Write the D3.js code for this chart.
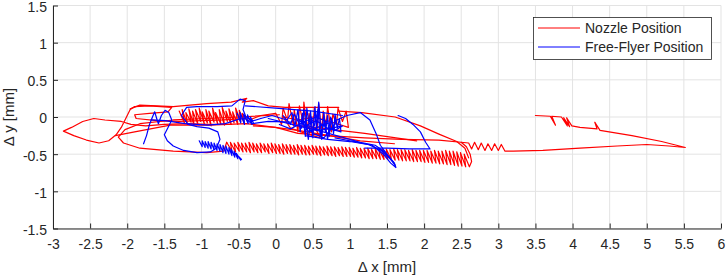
<!DOCTYPE html>
<html lang="en">
<head>
	<meta charset="utf-8">
	<title>Nozzle and Free-Flyer Position</title>
	<script src="https://d3js.org/d3.v7.min.js"></script>
	<style>
		body { margin: 0; background: #fff; }
		text { font-family: "Liberation Sans", Arial, Helvetica, sans-serif; fill: #262626; }
		.axis path, .axis .tick line { stroke: #262626; }
		.grid line { stroke: #e3e3e3; stroke-width: 1; }
		.trace { fill: none; stroke-width: 1.2; stroke-linejoin: round; stroke-linecap: round; }
	</style>
</head>
<body>
	<div id="chart"></div>
	<script>
		// tick labels
		var xTicks = [-3, -2.5, -2, -1.5, -1, -0.5, 0, 0.5, 1, 1.5, 2, 2.5, 3, 3.5, 4, 4.5, 5, 5.5, 6];
		var yTicks = [-1.5, -1, -0.5, 0, 0.5, 1, 1.5];
		var seriesNames = ["Nozzle Position", "Free-Flyer Position"];
		var seriesColors = ["#ff0000", "#0000ff"];

		// Nozzle position pieces, [dx, dy] in mm
		var nozzleLobe = [[-0.6,-0.1],[-0.9,-0.1],[-1.2,-0.09],[-1.5,-0.1],[-1.75,-0.12],[-1.95,-0.1],[-2.08,-0.06],[-2.3,-0.04],[-2.45,-0.02],[-2.6,-0.06],[-2.75,-0.14],[-2.86,-0.19],[-2.72,-0.25],[-2.55,-0.31],[-2.38,-0.35],[-2.25,-0.32],[-2.15,-0.24],[-2.08,-0.14],[-2.02,-0.02],[-1.96,0.1],[-1.9,0.14],[-1.7,0.15],[-1.4,0.13],[-1.45,0.07],[-1.7,0.05],[-1.9,0.03],[-1.88,-0.02],[-1.6,-0.05],[-1.3,-0.06],[-1.0,-0.05],[-0.7,-0.04],[-0.4,-0.02]];
		var nozzleSide = [[-2.16,-0.25],[-1.9,-0.2],[-1.42,-0.11],[-0.9,-0.11],[-0.39,-0.09],[0.3,-0.18],[1.14,-0.32],[1.6,-0.36]];
		var nozzleTop = [[-1.96,0.11],[-1.83,0.16],[-1.38,0.14],[-0.93,0.18],[-0.6,0.2],[-0.39,0.25],[-0.45,0.2],[-0.3,0.22],[-0.1,0.15],[0.13,0.13],[0.85,0.13]];
		var nozzleEllipse = [[0.05,0.03],[-0.48,0.0],[-0.93,-0.02],[-1.38,-0.04],[-1.83,-0.09],[-2.03,-0.17],[-2.12,-0.27],[-2.05,-0.35],[-1.83,-0.42],[-1.38,-0.46],[-0.93,-0.48],[-0.7,-0.46],[-0.66,-0.34]];
		var nozzleBandA = [[-0.66,-0.34],[-0.59,-0.46],[-0.61,-0.34],[-0.54,-0.47],[-0.56,-0.35],[-0.49,-0.46],[-0.51,-0.34],[-0.44,-0.47],[-0.46,-0.35],[-0.39,-0.47],[-0.41,-0.35],[-0.34,-0.48],[-0.36,-0.34],[-0.29,-0.47],[-0.31,-0.35],[-0.24,-0.48],[-0.26,-0.36],[-0.19,-0.48],[-0.21,-0.35],[-0.14,-0.47],[-0.16,-0.36],[-0.09,-0.49],[-0.11,-0.36],[-0.04,-0.48],[-0.06,-0.35],[0.01,-0.49],[-0.01,-0.36],[0.06,-0.49],[0.04,-0.37],[0.11,-0.5],[0.09,-0.36],[0.16,-0.49],[0.14,-0.37],[0.21,-0.5],[0.19,-0.37],[0.26,-0.5],[0.24,-0.38],[0.31,-0.51],[0.29,-0.37],[0.36,-0.5],[0.34,-0.38],[0.41,-0.51],[0.39,-0.38],[0.46,-0.51],[0.44,-0.39],[0.51,-0.5],[0.49,-0.38],[0.56,-0.51],[0.54,-0.39],[0.61,-0.52],[0.59,-0.39],[0.66,-0.51],[0.64,-0.4],[0.71,-0.52],[0.69,-0.39],[0.76,-0.52],[0.74,-0.4],[0.81,-0.53],[0.79,-0.4],[0.86,-0.52],[0.84,-0.41],[0.91,-0.53],[0.89,-0.4],[0.96,-0.53],[0.94,-0.41]];
		var nozzleBandB = [[0.94,-0.41],[1.01,-0.53],[0.99,-0.41],[1.06,-0.54],[1.04,-0.42],[1.11,-0.54],[1.09,-0.41],[1.16,-0.55],[1.14,-0.42],[1.21,-0.55],[1.19,-0.42],[1.26,-0.56],[1.24,-0.42],[1.31,-0.56],[1.29,-0.43],[1.36,-0.56],[1.34,-0.42],[1.41,-0.57],[1.39,-0.43],[1.46,-0.57],[1.44,-0.43],[1.51,-0.57],[1.49,-0.43],[1.56,-0.58],[1.54,-0.44],[1.61,-0.58],[1.59,-0.43],[1.66,-0.58],[1.64,-0.44],[1.71,-0.59],[1.69,-0.44],[1.76,-0.59],[1.74,-0.44],[1.81,-0.59],[1.79,-0.45],[1.86,-0.6],[1.84,-0.44],[1.91,-0.6],[1.89,-0.45],[1.96,-0.6],[1.94,-0.45],[2.01,-0.61],[1.99,-0.45],[2.06,-0.61],[2.04,-0.45],[2.11,-0.62],[2.09,-0.46],[2.16,-0.62],[2.14,-0.45],[2.21,-0.63],[2.19,-0.46],[2.26,-0.63],[2.24,-0.46],[2.31,-0.64],[2.29,-0.45],[2.36,-0.64],[2.34,-0.46],[2.41,-0.65],[2.39,-0.46],[2.46,-0.66],[2.44,-0.47],[2.51,-0.66],[2.49,-0.48],[2.56,-0.67],[2.54,-0.5],[2.61,-0.67],[2.64,-0.6],[2.62,-0.5],[2.57,-0.4],[2.5,-0.34]];
		var nozzleDiag = [[0.85,0.08],[1.16,0.06],[1.61,0.0],[1.95,-0.12],[2.2,-0.23],[2.44,-0.33],[2.55,-0.42],[2.6,-0.55]];
		var nozzleRight = [[3.5,0.02],[3.7,0.01],[3.77,-0.11],[3.72,0.01],[3.85,0.0],[3.93,-0.12],[3.88,-0.01],[3.96,-0.13],[3.92,-0.01],[3.99,-0.12],[4.1,-0.14],[4.33,-0.16],[4.3,-0.07],[4.37,-0.18],[4.8,-0.25],[5.2,-0.33],[5.52,-0.41],[5.3,-0.39],[5.0,-0.37],[4.6,-0.39],[4.1,-0.42],[3.6,-0.45],[3.2,-0.46],[3.09,-0.46],[3.04,-0.37],[3.0,-0.45],[2.95,-0.36],[2.91,-0.45],[2.86,-0.36],[2.82,-0.45],[2.77,-0.35],[2.73,-0.44],[2.68,-0.34],[2.64,-0.43],[2.6,-0.35],[2.2,-0.31],[1.7,-0.3],[1.2,-0.28],[0.7,-0.25],[0.3,-0.22],[0.0,-0.14],[-0.3,-0.12]];
		var nozzleClusterWest = [[-1.3,0.08],[-1.23,-0.08],[-1.26,0.1],[-1.19,-0.1],[-1.21,0.06],[-1.14,-0.07],[-1.17,0.11],[-1.1,-0.11],[-1.12,0.08],[-1.05,-0.09],[-1.08,0.1],[-1.01,-0.06],[-1.03,0.12],[-0.96,-0.1],[-0.99,0.07],[-0.92,-0.08],[-0.94,0.1],[-0.87,-0.12],[-0.9,0.08],[-0.83,-0.07],[-0.85,0.12],[-0.78,-0.1],[-0.81,0.06],[-0.74,-0.09],[-0.76,0.1],[-0.69,-0.11],[-0.72,0.13],[-0.65,-0.06],[-0.67,0.08],[-0.6,-0.1],[-0.63,0.11],[-0.56,-0.08],[-0.58,0.07],[-0.51,-0.1],[-0.54,0.12],[-0.47,-0.06],[-0.49,0.09],[-0.42,-0.09],[-0.45,0.05],[-0.38,-0.05],[-0.2,0.02],[0.0,0.05]];
		var nozzleClusterEast = [[0.0,0.05],[0.08,-0.1],[0.1,0.12],[0.16,-0.05],[0.18,0.18],[0.24,-0.12],[0.25,0.1],[0.3,-0.2],[0.32,0.15],[0.37,-0.08],[0.38,0.2],[0.43,-0.18],[0.45,0.05],[0.5,-0.25],[0.52,0.12],[0.56,-0.15],[0.58,0.18],[0.62,-0.22],[0.64,0.08],[0.68,-0.12],[0.7,0.14],[0.75,-0.2],[0.77,0.04],[0.82,-0.1],[0.84,0.12],[0.9,-0.06],[0.95,0.08],[0.98,-0.14],[0.7,-0.05],[0.5,0.0],[0.3,-0.04],[0.1,0.0],[0.2,-0.15],[0.4,-0.22],[0.6,-0.28],[0.55,-0.18],[0.35,-0.12],[1.2,-0.22],[1.9,-0.32]];

		// Free-flyer position pieces
		var flyerLeft = [[-1.78,-0.36],[-1.74,-0.25],[-1.7,-0.1],[-1.66,0.0],[-1.63,0.07],[-1.6,-0.03],[-1.58,-0.09],[-1.54,0.02],[-1.49,0.09],[-1.44,0.06],[-1.4,-0.04],[-1.45,-0.14],[-1.5,-0.24],[-1.46,-0.32],[-1.38,-0.39],[-1.24,-0.45],[-1.06,-0.48],[-0.88,-0.47],[-0.8,-0.42],[-0.75,-0.3],[-0.78,-0.2],[-0.9,-0.15],[-1.06,-0.13],[-1.18,-0.1],[-1.27,0.02],[-1.2,0.13],[-1.06,0.14],[-0.79,0.14],[-0.59,0.15],[-0.48,0.24],[-0.41,0.22],[-0.44,0.1],[-0.4,0.0],[-0.3,-0.05],[-0.2,-0.02]];
		var flyerMid = [[-1.68,-0.04],[-1.49,-0.05],[-1.22,-0.09],[-0.91,-0.11],[-0.68,-0.09],[-0.5,-0.03],[-0.41,-0.02],[-0.32,-0.09],[-0.1,-0.06],[0.2,-0.07]];
		var flyerTopLine = [[-0.41,0.15],[0.0,0.12],[0.5,0.08],[0.9,0.02]];
		var flyerBlob = [[-0.52,0.05],[-0.47,-0.08],[-0.48,0.06],[-0.42,-0.1],[-0.43,0.04],[-0.37,-0.09],[-0.38,0.03],[-0.32,-0.1],[-0.34,0.0],[-0.3,-0.08]];
		var flyerHatch = [[-1.03,-0.32],[-0.99,-0.4],[-0.99,-0.32],[-0.95,-0.41],[-0.95,-0.33],[-0.91,-0.42],[-0.91,-0.33],[-0.87,-0.43],[-0.87,-0.34],[-0.83,-0.44],[-0.83,-0.35],[-0.79,-0.45],[-0.79,-0.36],[-0.75,-0.46],[-0.75,-0.37],[-0.71,-0.48],[-0.71,-0.38],[-0.67,-0.49],[-0.67,-0.39],[-0.63,-0.5],[-0.63,-0.41],[-0.59,-0.52],[-0.6,-0.43],[-0.55,-0.54],[-0.56,-0.46],[-0.51,-0.56],[-0.53,-0.49],[-0.47,-0.58],[-0.5,-0.53],[-0.46,-0.57]];
		var flyerCluster = [[-0.2,-0.02],[-0.05,0.02],[0.15,-0.04],[0.22,0.06],[0.26,-0.12],[0.3,0.1],[0.33,-0.2],[0.36,0.05],[0.4,-0.26],[0.42,0.12],[0.45,-0.1],[0.47,0.08],[0.5,-0.28],[0.53,0.14],[0.55,-0.18],[0.58,0.2],[0.6,-0.06],[0.62,-0.3],[0.65,0.06],[0.67,-0.2],[0.7,0.02],[0.72,-0.26],[0.75,-0.02],[0.78,-0.22],[0.8,0.04],[0.83,-0.15],[0.86,-0.02],[0.88,-0.2],[0.7,-0.15],[0.55,-0.05],[0.4,-0.12],[0.3,-0.02],[0.45,-0.2],[0.6,-0.12],[0.72,-0.08],[0.55,0.0],[0.38,-0.06],[0.5,-0.22],[0.65,-0.28],[0.8,-0.1],[0.8,-0.05],[0.96,0.02],[1.14,0.06],[1.27,-0.04],[1.36,-0.24],[1.41,-0.38],[1.5,-0.5],[1.6,-0.62],[1.62,-0.68],[1.55,-0.62],[1.45,-0.5],[1.3,-0.38],[1.0,-0.33],[0.7,-0.3],[0.4,-0.25]];
		var flyerScribble = [[0.1,0.02],[0.2,-0.1],[0.25,0.04],[0.35,-0.15],[0.38,0.1],[0.44,-0.3],[0.48,0.0],[0.52,-0.12],[0.57,0.1],[0.6,-0.25],[0.66,-0.05],[0.7,-0.3],[0.74,0.0],[0.8,-0.18],[0.9,-0.12],[0.6,-0.18],[0.35,-0.08],[0.2,-0.16],[0.05,-0.1]];
		var flyerBand = [[-0.1,-0.02],[0.3,-0.12],[0.64,-0.2],[1.14,-0.34],[1.34,-0.38],[1.47,-0.47],[1.61,-0.65],[1.58,-0.6],[1.42,-0.45],[1.25,-0.37],[0.8,-0.28]];
		var flyerBranch = [[1.2,-0.42],[1.5,-0.42],[1.8,-0.43],[2.08,-0.43],[2.02,-0.34],[1.95,-0.2],[1.85,-0.1],[1.75,-0.02],[1.65,0.02]];

		var nozzleTraces = [nozzleLobe, nozzleSide, nozzleTop, nozzleEllipse, nozzleBandA, nozzleBandB, nozzleDiag, nozzleRight, nozzleClusterWest, nozzleClusterEast];
		var flyerTraces = [flyerLeft, flyerMid, flyerTopLine, flyerBlob, flyerHatch, flyerCluster, flyerScribble, flyerBand, flyerBranch];

		const width = 726;
		const height = 275;

		var svg = d3.select("#chart")
					.append("svg")
					.attr("width", width)
					.attr("height", height);

		let x = d3.scaleLinear().domain([-3, 6]).range([53, 721]);
		let y = d3.scaleLinear().domain([-1.5, 1.5]).range([228.5, 5.5]);

		// grid
		let grid = svg.append("g").attr("class", "grid");
		grid.selectAll("line.gx")
			.data(xTicks)
			.enter()
			.append("line")
			.attr("class", "gx")
			.attr("x1", function(d) { return x(d); })
			.attr("x2", function(d) { return x(d); })
			.attr("y1", y(-1.5))
			.attr("y2", y(1.5));
		grid.selectAll("line.gy")
			.data(yTicks)
			.enter()
			.append("line")
			.attr("class", "gy")
			.attr("x1", x(-3))
			.attr("x2", x(6))
			.attr("y1", function(d) { return y(d); })
			.attr("y2", function(d) { return y(d); });

		// traces, nozzle first then free-flyer on top
		let line = d3.line()
					.x(function(d) { return x(d[0]); })
					.y(function(d) { return y(d[1]); });
		svg.append("g")
			.selectAll("path")
			.data(nozzleTraces)
			.enter()
			.append("path")
			.attr("class", "trace")
			.attr("stroke", seriesColors[0])
			.attr("d", line);
		svg.append("g")
			.selectAll("path")
			.data(flyerTraces)
			.enter()
			.append("path")
			.attr("class", "trace")
			.attr("stroke", seriesColors[1])
			.attr("d", line);

		// axes, ticks pointing inward like matlab
		let xAxis = d3.axisBottom(x).tickValues(xTicks).tickFormat(function(d) { return String(d); })
					.tickSizeInner(-5).tickSizeOuter(0).tickPadding(11);
		let yAxis = d3.axisLeft(y).tickValues(yTicks).tickFormat(function(d) { return String(d); })
					.tickSizeInner(-5).tickSizeOuter(0).tickPadding(6);
		svg.append("g")
			.attr("class", "axis")
			.attr("transform", "translate(0, 228.5)")
			.call(xAxis)
			.attr("font-size", 14)
			.attr("font-family", null);
		svg.append("g")
			.attr("class", "axis")
			.attr("transform", "translate(53, 0)")
			.call(yAxis)
			.attr("font-size", 14)
			.attr("font-family", null);
		svg.selectAll(".axis .tick text").style("fill", "#262626");
		svg.selectAll(".axis:last-of-type .tick text").attr("dy", "0.42em");

		svg.append("text")
			.attr("x", 387)
			.attr("y", 272)
			.attr("text-anchor", "middle")
			.attr("font-size", 15)
			.text("\u0394 x [mm]");
		svg.append("text")
			.attr("transform", "translate(14, 117) rotate(-90)")
			.attr("text-anchor", "middle")
			.attr("font-size", 15)
			.text("\u0394 y [mm]");

		// legend
		let legend = svg.append("g");
		legend.append("rect")
			.attr("x", 533.5)
			.attr("y", 17.5)
			.attr("width", 178)
			.attr("height", 42)
			.attr("fill", "#fff")
			.attr("stroke", "#262626")
			.attr("stroke-width", 0.8);
		let item = legend.selectAll("g.item")
			.data(seriesNames)
			.enter()
			.append("g")
			.attr("class", "item")
			.attr("transform", function(d, i) { return "translate(0," + (28 + i * 19) + ")"; });
		item.append("line")
			.attr("x1", 538)
			.attr("x2", 580)
			.attr("stroke", function(d, i) { return seriesColors[i]; })
			.attr("stroke-width", 1);
		item.append("text")
			.attr("x", 585)
			.attr("dy", "0.35em")
			.attr("font-size", 14)
			.text(function(d) { return d; });
	</script>
</body>
</html>
